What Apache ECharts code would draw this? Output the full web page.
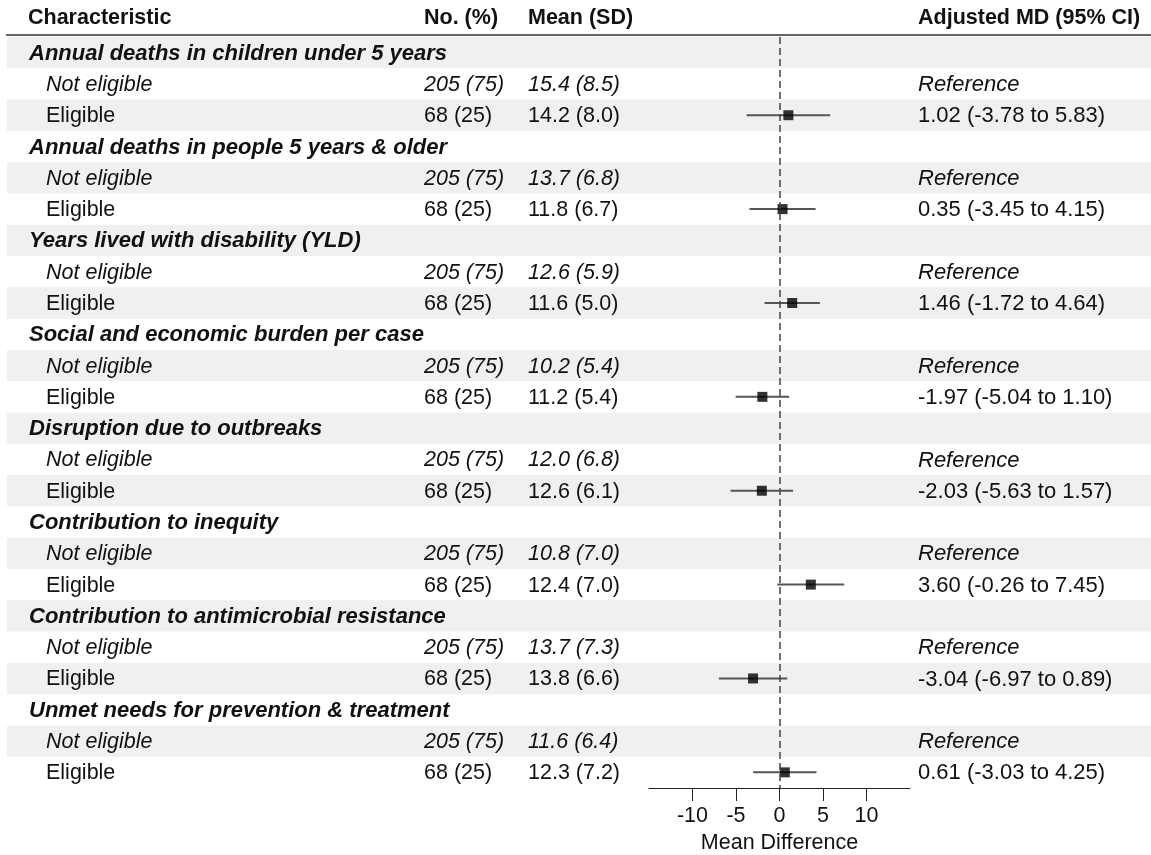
<!DOCTYPE html>
<html>
<head>
<meta charset="UTF-8">
<title>Forest plot</title>
<script type="text/javascript" src="https://cdn.jsdelivr.net/npm/echarts@6/dist/echarts.min.js"></script>
<style type="text/css">
	html, body { margin: 0; padding: 0; background: #fff; }
	#main { width: 1151px; height: 855px; }
</style>
</head>
<body>
<div id="main"></div>
<script type="text/javascript">
	// chart data
	var groups = [
		'Annual deaths in children under 5 years',
		'Annual deaths in people 5 years & older',
		'Years lived with disability (YLD)',
		'Social and economic burden per case',
		'Disruption due to outbreaks',
		'Contribution to inequity',
		'Contribution to antimicrobial resistance',
		'Unmet needs for prevention & treatment'
	];
	var nNot = ['205 (75)', '205 (75)', '205 (75)', '205 (75)', '205 (75)', '205 (75)', '205 (75)', '205 (75)'];
	var nElig = ['68 (25)', '68 (25)', '68 (25)', '68 (25)', '68 (25)', '68 (25)', '68 (25)', '68 (25)'];
	var meanNot = ['15.4 (8.5)', '13.7 (6.8)', '12.6 (5.9)', '10.2 (5.4)', '12.0 (6.8)', '10.8 (7.0)', '13.7 (7.3)', '11.6 (6.4)'];
	var meanElig = ['14.2 (8.0)', '11.8 (6.7)', '11.6 (5.0)', '11.2 (5.4)', '12.6 (6.1)', '12.4 (7.0)', '13.8 (6.6)', '12.3 (7.2)'];
	var md = [1.02, 0.35, 1.46, -1.97, -2.03, 3.60, -3.04, 0.61];
	var lo = [-3.78, -3.45, -1.72, -5.04, -5.63, -0.26, -6.97, -3.03];
	var hi = [5.83, 4.15, 4.64, 1.10, 1.57, 7.45, 0.89, 4.25];
	var tickValues = [-10, -5, 0, 5, 10];

	var FONT = '"Liberation Sans", Arial, sans-serif';
	var SIZE = 21.5;

	function fmt(v) { return v.toFixed(2); }

	// rows of the table: group header, not eligible, eligible
	var rows = [];
	for (var g = 0; g < groups.length; g++) {
		rows.push({ kind: 'group', cols: [groups[g], '', '', ''] });
		rows.push({ kind: 'not', cols: ['Not eligible', nNot[g], meanNot[g], 'Reference'] });
		rows.push({ kind: 'elig', cols: ['Eligible', nElig[g], meanElig[g], fmt(md[g]) + ' (' + fmt(lo[g]) + ' to ' + fmt(hi[g]) + ')'] });
	}
	var rowIds = rows.map(function (r, i) { return i; });

	var tableData = rows.map(function (r, i) { return [0, i]; });
	var pointData = [];
	var ciData = [];
	for (var g = 0; g < groups.length; g++) {
		pointData.push([md[g], g * 3 + 2]);
		ciData.push([lo[g], hi[g], g * 3 + 2]);
	}

	function renderRow(params, api) {
		var i = api.value(1);
		var y = api.coord([0, i])[1];
		var h = api.size([0, 1])[1];
		var r = rows[i];
		var children = [];
		if (i % 2 === 0) {
			children.push({ type: 'rect', shape: { x: 7, y: y - h / 2, width: 1144, height: h }, style: { fill: '#eff1f0' } });
		}
		var style = r.kind === 'group' ? 'italic bold ' : (r.kind === 'not' ? 'italic ' : '');
		var size = r.kind === 'group' ? 22 : SIZE;
		var xs = [r.kind === 'group' ? 29 : 46, 424, 528, 918];
		for (var c = 0; c < 4; c++) {
			if (!r.cols[c]) continue;
			children.push({
				type: 'text',
				style: { text: r.cols[c], x: xs[c], y: y + 1, font: style + (c === 3 ? 22 : size) + 'px ' + FONT, fill: '#111', align: 'left', verticalAlign: 'middle' }
			});
		}
		return { type: 'group', children: children };
	}

	function renderCI(params, api) {
		var a = api.coord([api.value(0), api.value(2)]);
		var b = api.coord([api.value(1), api.value(2)]);
		return { type: 'line', shape: { x1: a[0], y1: a[1], x2: b[0], y2: b[1] }, style: { stroke: '#555', lineWidth: 2 } };
	}

	var myChart = echarts.init(document.getElementById('main'));

	var headerFont = 'bold ' + SIZE + 'px ' + FONT;
	var option = {
		animation: false,
		grid: { left: 649, right: 241, top: 37, bottom: 67, outerBoundsMode: 'none', containLabel: false },
		xAxis: {
			type: 'value',
			min: -15,
			max: 15,
			interval: 5,
			splitLine: { show: false },
			axisLine: { show: true, lineStyle: { color: '#222', width: 1 } },
			axisTick: { show: true, customValues: tickValues, length: 13, lineStyle: { color: '#222' } },
			axisLabel: { customValues: tickValues, fontSize: SIZE, fontFamily: FONT, color: '#111', margin: 17 },
			name: 'Mean Difference',
			nameLocation: 'middle',
			nameGap: 42,
			nameTextStyle: { fontSize: SIZE, fontFamily: FONT, color: '#111' }
		},
		yAxis: {
			type: 'category',
			data: rowIds,
			inverse: true,
			show: false
		},
		graphic: [
			{ type: 'text', left: 28, top: 7, style: { text: 'Characteristic', font: headerFont, fill: '#111' } },
			{ type: 'text', left: 424, top: 7, style: { text: 'No. (%)', font: headerFont, fill: '#111' } },
			{ type: 'text', left: 528, top: 7, style: { text: 'Mean (SD)', font: headerFont, fill: '#111' } },
			{ type: 'text', left: 918, top: 7, style: { text: 'Adjusted MD (95% CI)', font: headerFont, fill: '#111' } },
			{ type: 'line', shape: { x1: 6, y1: 35, x2: 1151, y2: 35 }, style: { stroke: '#333', lineWidth: 1.5 } }
		],
		series: [
			{
				type: 'custom',
				renderItem: renderRow,
				data: tableData,
				clip: false,
				silent: true,
				z: 1
			},
			{
				type: 'custom',
				renderItem: renderCI,
				data: ciData,
				encode: { x: [0, 1], y: 2 },
				silent: true,
				z: 3
			},
			{
				type: 'scatter',
				data: pointData,
				symbol: 'rect',
				symbolSize: 10,
				itemStyle: { color: '#000' },
				z: 4,
				markLine: {
					silent: true,
					symbol: 'none',
					label: { show: false },
					lineStyle: { color: '#444', width: 1.5, type: [7, 4] },
					data: [{ xAxis: 0 }]
				}
			}
		]
	};

	myChart.setOption(option);
</script>
</body>
</html>
